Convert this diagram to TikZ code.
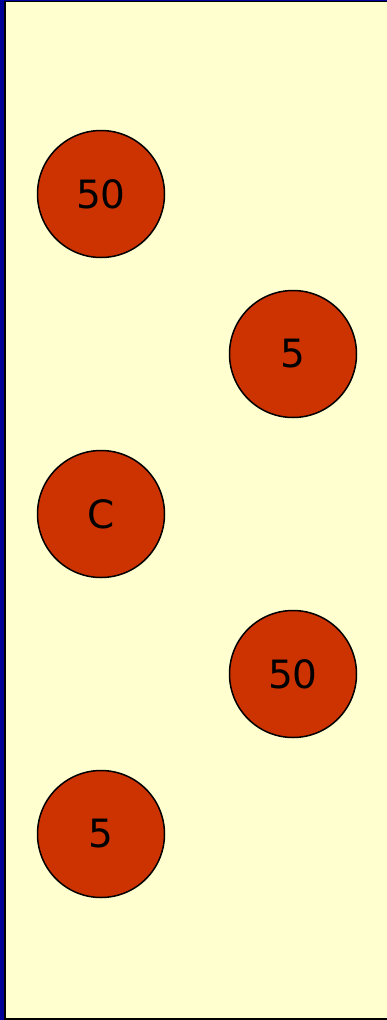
\documentclass[tikz,border=0pt]{standalone}
\usepackage{fontspec}
\setmainfont{DejaVu Sans}
\definecolor{bgblue}{RGB}{0,0,153}
\definecolor{panel}{RGB}{255,255,208}
\definecolor{ball}{RGB}{204,51,0}
\tikzset{
  coin/.style={circle, draw=black, line width=1.5pt, fill=ball, minimum size=127pt, inner sep=0pt, font=\fontsize{39}{43}\selectfont}
}
\begin{document}
\begin{tikzpicture}[x=1pt,y=-1pt]
\useasboundingbox (0,0) rectangle (387,1020);
\fill[bgblue] (0,0) rectangle (387,1020);
\draw[black, line width=1.5pt, fill=panel] (5,1.6) rectangle (400,1019);
\node[coin] (a) at (101,194) {50};
\node[coin] (b) at (293,354) {5};
\node[coin] (c) at (101,514) {C};
\node[coin] (d) at (293,674) {50};
\node[coin] (e) at (101,834) {5};
\end{tikzpicture}
\end{document}
